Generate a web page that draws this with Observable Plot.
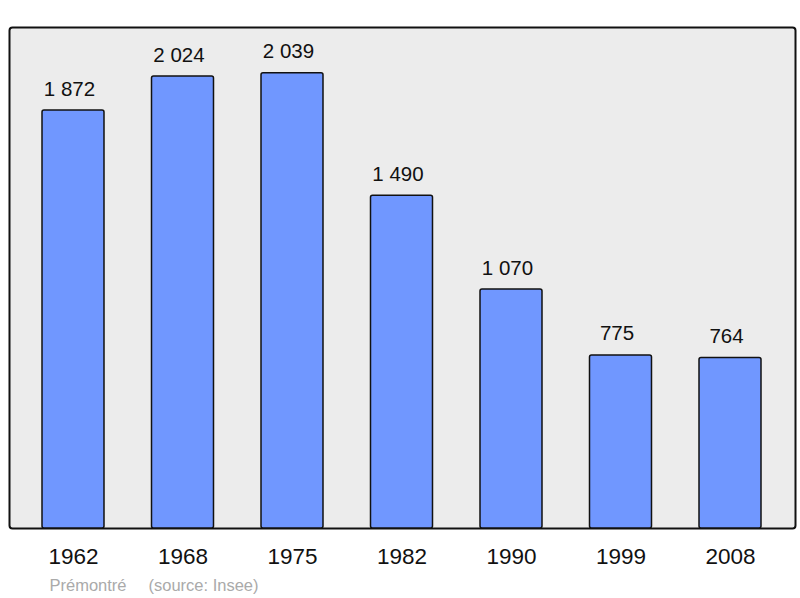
<!DOCTYPE html>
<html>
<head>
<meta charset="utf-8">
<script src="https://cdn.jsdelivr.net/npm/d3@7"></script>
<script src="https://cdn.jsdelivr.net/npm/@observablehq/plot@0.6"></script>
<style>
  html, body { margin: 0; padding: 0; background: #ffffff; }
  #chart svg { display: block; }
</style>
</head>
<body>
<div id="chart"></div>
<script>
const years = ["1962", "1968", "1975", "1982", "1990", "1999", "2008"];
const population = [1872, 2024, 2039, 1490, 1070, 775, 764];
const captionName = "Prémontré";
const captionSource = "(source: Insee)";

const data = years.map((y, i) => ({year: y, pop: population[i]}));
const fmt = d3.formatLocale({decimal: ",", thousands: " ", grouping: [3], currency: ["", ""]}).format(",d");

const chart = Plot.plot({
  width: 800,
  height: 598,
  marginTop: 27,
  marginBottom: 70,
  marginLeft: 9,
  marginRight: 5,
  style: {fontFamily: "'Liberation Sans', Arial, sans-serif", background: "#ffffff"},
  x: {domain: years, range: [42, 761], paddingInner: 0.4338, paddingOuter: 0, round: false, label: null},
  y: {domain: [0, 2244], axis: null},
  marks: [
    Plot.frame({fill: "#ececec", stroke: "#111", strokeWidth: 2, rx: 3}),
    Plot.barY(data, {x: "year", y: "pop", fill: "#7097ff", stroke: "#111", strokeWidth: 1.5, rx: 2}),
    Plot.text(data, {x: "year", y: "pop", text: d => fmt(d.pop), lineAnchor: "bottom", dx: -4, dy: -15, fontSize: 20.5, fill: "#111"}),
    Plot.axisX({tickSize: 0, tickPadding: 20, fontSize: 22.5, fill: "#111"}),
    Plot.text([captionName], {frameAnchor: "bottom-left", dx: 40, dy: 62, fontSize: 16.5, fill: "#aaaaaa", textAnchor: "start"}),
    Plot.text([captionSource], {frameAnchor: "bottom-left", dx: 139, dy: 62, fontSize: 16.5, fill: "#aaaaaa", textAnchor: "start"})
  ]
});
document.getElementById("chart").appendChild(chart);
</script>
</body>
</html>
